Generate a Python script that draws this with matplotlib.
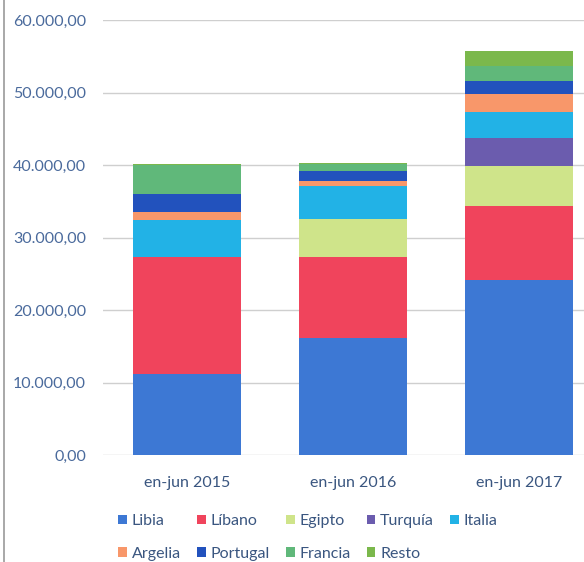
import matplotlib
matplotlib.use("Agg")
import matplotlib.pyplot as plt
from matplotlib.patches import Patch
from matplotlib.lines import Line2D
import numpy as np

plt.rcParams['font.family'] = ['Lato', 'DejaVu Sans']

categories = ["en-jun 2015", "en-jun 2016", "en-jun 2017"]
series_names = ["Libia", "Líbano", "Egipto", "Turquía", "Italia",
                "Argelia", "Portugal", "Francia", "Resto"]
libia    = [11200, 16100, 24100]
libano   = [16100, 11250, 10300]
egipto   = [0, 5300, 5500]
turquia  = [0, 0, 3800]
italia   = [5100, 4450, 3700]
argelia  = [1100, 730, 2400]
portugal = [2500, 1380, 1850]
francia  = [4000, 900, 2050]
resto    = [150, 260, 2050]
yticks = [0, 10000, 20000, 30000, 40000, 50000, 60000]
ytick_labels = ["0,00", "10.000,00", "20.000,00", "30.000,00",
                "40.000,00", "50.000,00", "60.000,00"]

values = [libia, libano, egipto, turquia, italia, argelia, portugal, francia, resto]
colors = ["#3d78d4", "#f0445c", "#cfe48a", "#6b5cae", "#22b2e6",
          "#f8976a", "#2252bd", "#60b87a", "#7bb84c"]

fig = plt.figure(figsize=(5.84, 5.62), dpi=100)
ax = fig.add_axes([0.176, 0.19, 0.824, 0.774])

x = np.arange(len(categories))
bottom = np.zeros(len(categories))
handles = []
for name, vals, c in zip(series_names, values, colors):
    ax.bar(x, vals, width=0.65, bottom=bottom, color=c, zorder=3)
    bottom += np.array(vals)
    handles.append(Patch(facecolor=c, label=name))

ax.set_xlim(-0.51, 2.39)
ax.set_ylim(0, 60000)
ax.set_yticks(yticks)
ax.set_yticklabels(ytick_labels)
ax.set_xticks(x)
ax.set_xticklabels(categories)
ax.grid(axis='y', color='#cfcfcf', linewidth=1.0, zorder=0)
for s in ax.spines.values():
    s.set_visible(False)
ax.tick_params(axis='both', length=0, labelsize=11.5)
ax.tick_params(axis='y', pad=12, labelcolor='#4a6a9c')
ax.tick_params(axis='x', pad=15, labelcolor='#3a5680')

order = [0, 5, 1, 6, 2, 7, 3, 8, 4]
leg = fig.legend([handles[i] for i in order], [series_names[i] for i in order],
                 ncol=5, loc='lower left', bbox_to_anchor=(0.178, -0.023),
                 frameon=False, fontsize=11.5, handlelength=0.55, handleheight=0.55,
                 handletextpad=0.3, columnspacing=1.0, labelspacing=1.15,
                 labelcolor='#3a5680')

fig.add_artist(Line2D([0.006, 0.006], [0, 1], color='#9a9a9a', linewidth=1.2,
                      transform=fig.transFigure))

fig.savefig("out.png", dpi=100)
